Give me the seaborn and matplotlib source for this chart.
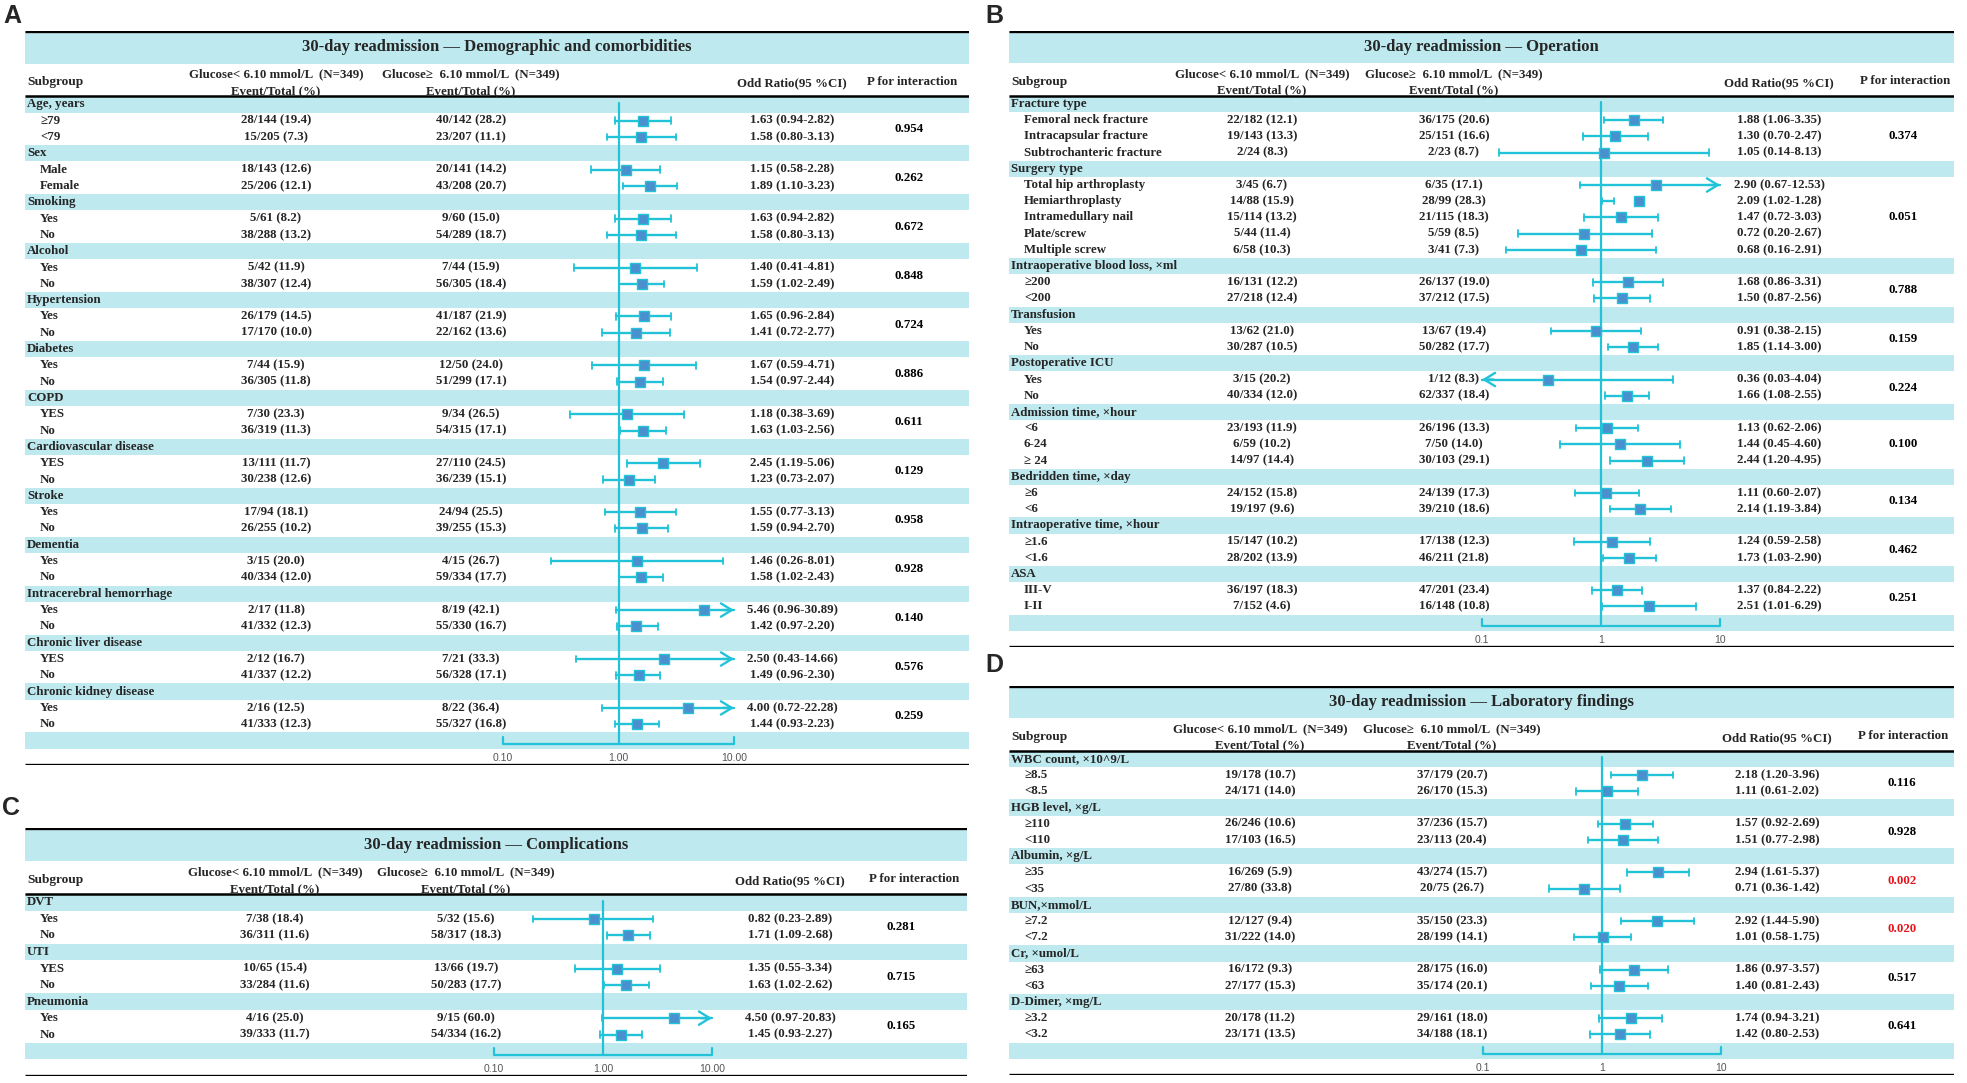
import matplotlib
matplotlib.use("Agg")
import matplotlib.pyplot as plt
from matplotlib.patches import Rectangle
import pandas as pd
import seaborn as sns

# ---------------- data ----------------
# A: demographic and comorbidities
a_groups = ["Age, years", "Sex", "Smoking", "Alcohol", "Hypertension", "Diabetes", "COPD",
            "Cardiovascular disease", "Stroke", "Dementia", "Intracerebral hemorrhage",
            "Chronic liver disease", "Chronic kidney disease"]
a_items = [["≥79", "<79"], ["Male", "Female"], ["Yes", "No"], ["Yes", "No"], ["Yes", "No"],
           ["Yes", "No"], ["YES", "No"], ["YES", "No"], ["Yes", "No"], ["Yes", "No"],
           ["Yes", "No"], ["YES", "No"], ["Yes", "No"]]
a_low = [["28/144 (19.4)", "15/205 (7.3)"], ["18/143 (12.6)", "25/206 (12.1)"],
         ["5/61 (8.2)", "38/288 (13.2)"], ["5/42 (11.9)", "38/307 (12.4)"],
         ["26/179 (14.5)", "17/170 (10.0)"], ["7/44 (15.9)", "36/305 (11.8)"],
         ["7/30 (23.3)", "36/319 (11.3)"], ["13/111 (11.7)", "30/238 (12.6)"],
         ["17/94 (18.1)", "26/255 (10.2)"], ["3/15 (20.0)", "40/334 (12.0)"],
         ["2/17 (11.8)", "41/332 (12.3)"], ["2/12 (16.7)", "41/337 (12.2)"],
         ["2/16 (12.5)", "41/333 (12.3)"]]
a_high = [["40/142 (28.2)", "23/207 (11.1)"], ["20/141 (14.2)", "43/208 (20.7)"],
          ["9/60 (15.0)", "54/289 (18.7)"], ["7/44 (15.9)", "56/305 (18.4)"],
          ["41/187 (21.9)", "22/162 (13.6)"], ["12/50 (24.0)", "51/299 (17.1)"],
          ["9/34 (26.5)", "54/315 (17.1)"], ["27/110 (24.5)", "36/239 (15.1)"],
          ["24/94 (25.5)", "39/255 (15.3)"], ["4/15 (26.7)", "59/334 (17.7)"],
          ["8/19 (42.1)", "55/330 (16.7)"], ["7/21 (33.3)", "56/328 (17.1)"],
          ["8/22 (36.4)", "55/327 (16.8)"]]
a_or = [[1.63, 1.58], [1.15, 1.89], [1.63, 1.58], [1.40, 1.59], [1.65, 1.41], [1.67, 1.54],
        [1.18, 1.63], [2.45, 1.23], [1.55, 1.59], [1.46, 1.58], [5.46, 1.42], [2.50, 1.49],
        [4.00, 1.44]]
a_lo = [[0.94, 0.80], [0.58, 1.10], [0.94, 0.80], [0.41, 1.02], [0.96, 0.72], [0.59, 0.97],
        [0.38, 1.03], [1.19, 0.73], [0.77, 0.94], [0.26, 1.02], [0.96, 0.97], [0.43, 0.96],
        [0.72, 0.93]]
a_hi = [[2.82, 3.13], [2.28, 3.23], [2.82, 3.13], [4.81, 2.49], [2.84, 2.77], [4.71, 2.44],
        [3.69, 2.56], [5.06, 2.07], [3.13, 2.70], [8.01, 2.43], [30.89, 2.20], [14.66, 2.30],
        [22.28, 2.23]]
a_p = ["0.954", "0.262", "0.672", "0.848", "0.724", "0.886", "0.611", "0.129", "0.958",
       "0.928", "0.140", "0.576", "0.259"]

# B: operation
b_groups = ["Fracture type", "Surgery type", "Intraoperative blood loss, ×ml", "Transfusion",
            "Postoperative ICU", "Admission time, ×hour", "Bedridden time, ×day",
            "Intraoperative time, ×hour", "ASA"]
b_items = [["Femoral neck fracture", "Intracapsular fracture", "Subtrochanteric fracture"],
           ["Total hip arthroplasty", "Hemiarthroplasty", "Intramedullary nail", "Plate/screw",
            "Multiple screw"],
           ["≥200", "<200"], ["Yes", "No"], ["Yes", "No"], ["<6", "6-24", "≥ 24"],
           ["≥6", "<6"], ["≥1.6", "<1.6"], ["III-V", "I-II"]]
b_low = [["22/182 (12.1)", "19/143 (13.3)", "2/24 (8.3)"],
         ["3/45 (6.7)", "14/88 (15.9)", "15/114 (13.2)", "5/44 (11.4)", "6/58 (10.3)"],
         ["16/131 (12.2)", "27/218 (12.4)"], ["13/62 (21.0)", "30/287 (10.5)"],
         ["3/15 (20.2)", "40/334 (12.0)"], ["23/193 (11.9)", "6/59 (10.2)", "14/97 (14.4)"],
         ["24/152 (15.8)", "19/197 (9.6)"], ["15/147 (10.2)", "28/202 (13.9)"],
         ["36/197 (18.3)", "7/152 (4.6)"]]
b_high = [["36/175 (20.6)", "25/151 (16.6)", "2/23 (8.7)"],
          ["6/35 (17.1)", "28/99 (28.3)", "21/115 (18.3)", "5/59 (8.5)", "3/41 (7.3)"],
          ["26/137 (19.0)", "37/212 (17.5)"], ["13/67 (19.4)", "50/282 (17.7)"],
          ["1/12 (8.3)", "62/337 (18.4)"], ["26/196 (13.3)", "7/50 (14.0)", "30/103 (29.1)"],
          ["24/139 (17.3)", "39/210 (18.6)"], ["17/138 (12.3)", "46/211 (21.8)"],
          ["47/201 (23.4)", "16/148 (10.8)"]]
b_or = [[1.88, 1.30, 1.05], [2.90, 2.09, 1.47, 0.72, 0.68], [1.68, 1.50], [0.91, 1.85],
        [0.36, 1.66], [1.13, 1.44, 2.44], [1.11, 2.14], [1.24, 1.73], [1.37, 2.51]]
b_lo = [[1.06, 0.70, 0.14], [0.67, 1.02, 0.72, 0.20, 0.16], [0.86, 0.87], [0.38, 1.14],
        [0.03, 1.08], [0.62, 0.45, 1.20], [0.60, 1.19], [0.59, 1.03], [0.84, 1.01]]
b_hi = [[3.35, 2.47, 8.13], [12.53, 1.28, 3.03, 2.67, 2.91], [3.31, 2.56], [2.15, 3.00],
        [4.04, 2.55], [2.06, 4.60, 4.95], [2.07, 3.84], [2.58, 2.90], [2.22, 6.29]]
b_p = ["0.374", "0.051", "0.788", "0.159", "0.224", "0.100", "0.134", "0.462", "0.251"]

# C: complications
c_groups = ["DVT", "UTI", "Pneumonia"]
c_items = [["Yes", "No"], ["YES", "No"], ["Yes", "No"]]
c_low = [["7/38 (18.4)", "36/311 (11.6)"], ["10/65 (15.4)", "33/284 (11.6)"],
         ["4/16 (25.0)", "39/333 (11.7)"]]
c_high = [["5/32 (15.6)", "58/317 (18.3)"], ["13/66 (19.7)", "50/283 (17.7)"],
          ["9/15 (60.0)", "54/334 (16.2)"]]
c_or = [[0.82, 1.71], [1.35, 1.63], [4.50, 1.45]]
c_lo = [[0.23, 1.09], [0.55, 1.02], [0.97, 0.93]]
c_hi = [[2.89, 2.68], [3.34, 2.62], [20.83, 2.27]]
c_p = ["0.281", "0.715", "0.165"]

# D: laboratory findings
d_groups = ["WBC count, ×10^9/L", "HGB level, ×g/L", "Albumin, ×g/L", "BUN,×mmol/L",
            "Cr, ×umol/L", "D-Dimer, ×mg/L"]
d_items = [["≥8.5", "<8.5"], ["≥110", "<110"], ["≥35", "<35"], ["≥7.2", "<7.2"],
           ["≥63", "<63"], ["≥3.2", "<3.2"]]
d_low = [["19/178 (10.7)", "24/171 (14.0)"], ["26/246 (10.6)", "17/103 (16.5)"],
         ["16/269 (5.9)", "27/80 (33.8)"], ["12/127 (9.4)", "31/222 (14.0)"],
         ["16/172 (9.3)", "27/177 (15.3)"], ["20/178 (11.2)", "23/171 (13.5)"]]
d_high = [["37/179 (20.7)", "26/170 (15.3)"], ["37/236 (15.7)", "23/113 (20.4)"],
          ["43/274 (15.7)", "20/75 (26.7)"], ["35/150 (23.3)", "28/199 (14.1)"],
          ["28/175 (16.0)", "35/174 (20.1)"], ["29/161 (18.0)", "34/188 (18.1)"]]
d_or = [[2.18, 1.11], [1.57, 1.51], [2.94, 0.71], [2.92, 1.01], [1.86, 1.40], [1.74, 1.42]]
d_lo = [[1.20, 0.61], [0.92, 0.77], [1.61, 0.36], [1.44, 0.58], [0.97, 0.81], [0.94, 0.80]]
d_hi = [[3.96, 2.02], [2.69, 2.98], [5.37, 1.42], [5.90, 1.75], [3.57, 2.43], [3.21, 2.53]]
d_p = ["0.116", "0.928", "0.002", "0.020", "0.517", "0.641"]
d_sig = ["0.002", "0.020"]

titles = ["30-day readmission — Demographic and comorbidities",
          "30-day readmission — Operation",
          "30-day readmission — Complications",
          "30-day readmission — Laboratory findings"]
head_low = "Glucose< 6.10 mmol/L  (N=349)"
head_high = "Glucose≥  6.10 mmol/L  (N=349)"
head_sub = "Event/Total (%)"
ticks_2dp = ["0.10", "1.00", "10.00"]
ticks_plain = ["0.1", "1", "10"]

# ---------------- style ----------------
sns.set_theme(style="white")
plt.rcParams["font.family"] = ["Liberation Serif", "DejaVu Serif"]
plt.rcParams["font.weight"] = "bold"

BAND = "#bde9ef"
CYAN = "#22c3d8"
BOX = "#4a8fce"
RED = "#e8141c"
FS = 9.3

W, H = 1967, 1083
fig = plt.figure(figsize=(W / 100, H / 100), dpi=100)


def px_axes(x0, x1, y0, y1):
    return fig.add_axes([x0 / W, 1 - y1 / H, (x1 - x0) / W, (y1 - y0) / H])


def draw_panel(lay, title, groups, items, low, high, ors, los, his, pvals, ticks, sig=()):
    n_data = sum(len(it) + 1 for it in items)
    N = 4 + n_data + 2
    x0, x1, y0, y1 = lay["box"]
    tab = px_axes(x0, x1, y0, y1)
    tab.set_xlim(x0, x1)
    tab.set_ylim(N, 0)
    tab.axis("off")

    # title band and header
    tab.add_patch(Rectangle((x0, 0), x1 - x0, 2, color=BAND, lw=0))
    tab.text((x0 + x1) / 2, 1.0, title, ha="center", va="center", fontsize=12)
    tab.text(x0 + 2, 3.13, "Subgroup", ha="left", va="center", fontsize=9.6)
    tab.text(lay["c1"], 2.68, head_low, ha="center", va="center", fontsize=FS)
    tab.text(lay["c1"], 3.68, head_sub, ha="center", va="center", fontsize=FS)
    tab.text(lay["c2"], 2.68, head_high, ha="center", va="center", fontsize=FS)
    tab.text(lay["c2"], 3.68, head_sub, ha="center", va="center", fontsize=FS)
    tab.text(lay["orx"], 3.2, "Odd Ratio(95 %CI)", ha="center", va="center", fontsize=FS)
    tab.text(lay["phx"], 3.1, "P for interaction", ha="center", va="center", fontsize=FS)

    rows = []
    r = 4
    for g, grp in enumerate(groups):
        tab.add_patch(Rectangle((x0, r), x1 - x0, 1, color=BAND, lw=0))
        tab.text(x0 + 2, r + 0.5, grp, ha="left", va="center", fontsize=FS)
        r += 1
        ys = []
        for i, it in enumerate(items[g]):
            y = r + 0.5
            tab.text(x0 + 15, y, it, ha="left", va="center", fontsize=FS)
            tab.text(lay["c1"], y, low[g][i], ha="center", va="center", fontsize=FS)
            tab.text(lay["c2"], y, high[g][i], ha="center", va="center", fontsize=FS)
            tab.text(lay["orx"], y, f"{ors[g][i]:.2f} ({los[g][i]:.2f}-{his[g][i]:.2f})",
                     ha="center", va="center", fontsize=FS)
            rows.append({"or": ors[g][i], "lo": los[g][i], "hi": his[g][i], "y": y})
            ys.append(y)
            r += 1
        tab.text(lay["px"], sum(ys) / len(ys), pvals[g], ha="center", va="center",
                 fontsize=FS, color=RED if pvals[g] in sig else "black")

    # axis band
    tab.add_patch(Rectangle((x0, r), x1 - x0, 1, color=BAND, lw=0))
    ax_y = r
    # rules
    tab.plot([x0, x1], [0, 0], color="black", lw=2.4, solid_capstyle="butt")
    tab.plot([x0, x1], [4, 4], color="black", lw=1.8, solid_capstyle="butt")
    tab.plot([x0, x1], [N, N], color="black", lw=2.4, solid_capstyle="butt")

    # forest
    fr = px_axes(lay["x01"], lay["x10"], y0, y1)
    fr.patch.set_alpha(0)
    df = pd.DataFrame(rows)
    sns.scatterplot(data=df, x="or", y="y", marker="s", s=55, color=BOX, edgecolor=CYAN,
                    linewidth=1.0, ax=fr, legend=False, zorder=5, clip_on=False)
    fr.set_xscale("log")
    fr.set_xlim(0.1, 10)
    fr.set_ylim(N, 0)
    fr.axis("off")
    fr.plot([1, 1], [4.4, ax_y + 0.72], color=CYAN, lw=1.6, zorder=3, clip_on=False)
    cap = 0.2
    for _, row in df.iterrows():
        y = row["y"]
        a = max(row["lo"], 0.1)
        b = min(row["hi"], 10)
        fr.plot([a, b], [y, y], color=CYAN, lw=1.7, zorder=4, clip_on=False)
        if row["hi"] > 10:
            fr.annotate("", xy=(10, y), xytext=(b * 0.8, y),
                        arrowprops=dict(arrowstyle="->,head_length=0.65,head_width=0.4",
                                        color=CYAN, lw=1.7, mutation_scale=12,
                                        shrinkA=0, shrinkB=0), zorder=4)
        else:
            fr.plot([b, b], [y - cap, y + cap], color=CYAN, lw=1.3, zorder=4, clip_on=False)
        if row["lo"] < 0.1:
            fr.annotate("", xy=(0.1, y), xytext=(a * 1.25, y),
                        arrowprops=dict(arrowstyle="->,head_length=0.65,head_width=0.4",
                                        color=CYAN, lw=1.7, mutation_scale=12,
                                        shrinkA=0, shrinkB=0), zorder=4)
        else:
            fr.plot([a, a], [y - cap, y + cap], color=CYAN, lw=1.3, zorder=4, clip_on=False)

    # x axis bracket
    fr.plot([0.1, 0.1, 10, 10], [ax_y + 0.3, ax_y + 0.72, ax_y + 0.72, ax_y + 0.3],
            color=CYAN, lw=1.6, clip_on=False, zorder=3)
    for v, lab in zip([0.1, 1, 10], ticks):
        fr.text(v, ax_y + 1.55, lab, ha="center", va="center", fontsize=7.5,
                color="#555555", family=["Liberation Sans", "DejaVu Sans"],
                fontweight="normal")

    fig.text(lay["lab"][0] / W, 1 - lay["lab"][1] / H, lay["letter"], ha="left",
             va="center", fontsize=18, fontweight="bold",
             family=["Liberation Sans", "DejaVu Sans"])


lay_a = dict(box=(25, 969, 31, 765), c1=276, c2=471, orx=792, px=909, phx=912,
             x01=503, x10=734, lab=(3, 16), letter="A")
lay_b = dict(box=(1009, 1954, 31, 647), c1=1262, c2=1454, orx=1779, px=1903, phx=1905,
             x01=1482, x10=1720, lab=(985, 16), letter="B")
lay_c = dict(box=(25, 967, 828, 1076), c1=275, c2=466, orx=790, px=901, phx=914,
             x01=494, x10=712, lab=(2, 808), letter="C")
lay_d = dict(box=(1009, 1954, 686, 1075), c1=1260, c2=1452, orx=1777, px=1902, phx=1903,
             x01=1483, x10=1721, lab=(985, 665), letter="D")

draw_panel(lay_a, titles[0], a_groups, a_items, a_low, a_high, a_or, a_lo, a_hi, a_p, ticks_2dp)
draw_panel(lay_b, titles[1], b_groups, b_items, b_low, b_high, b_or, b_lo, b_hi, b_p, ticks_plain)
draw_panel(lay_c, titles[2], c_groups, c_items, c_low, c_high, c_or, c_lo, c_hi, c_p, ticks_2dp)
draw_panel(lay_d, titles[3], d_groups, d_items, d_low, d_high, d_or, d_lo, d_hi, d_p, ticks_plain,
           sig=d_sig)

fig.savefig("out.png", dpi=100, facecolor="white")
